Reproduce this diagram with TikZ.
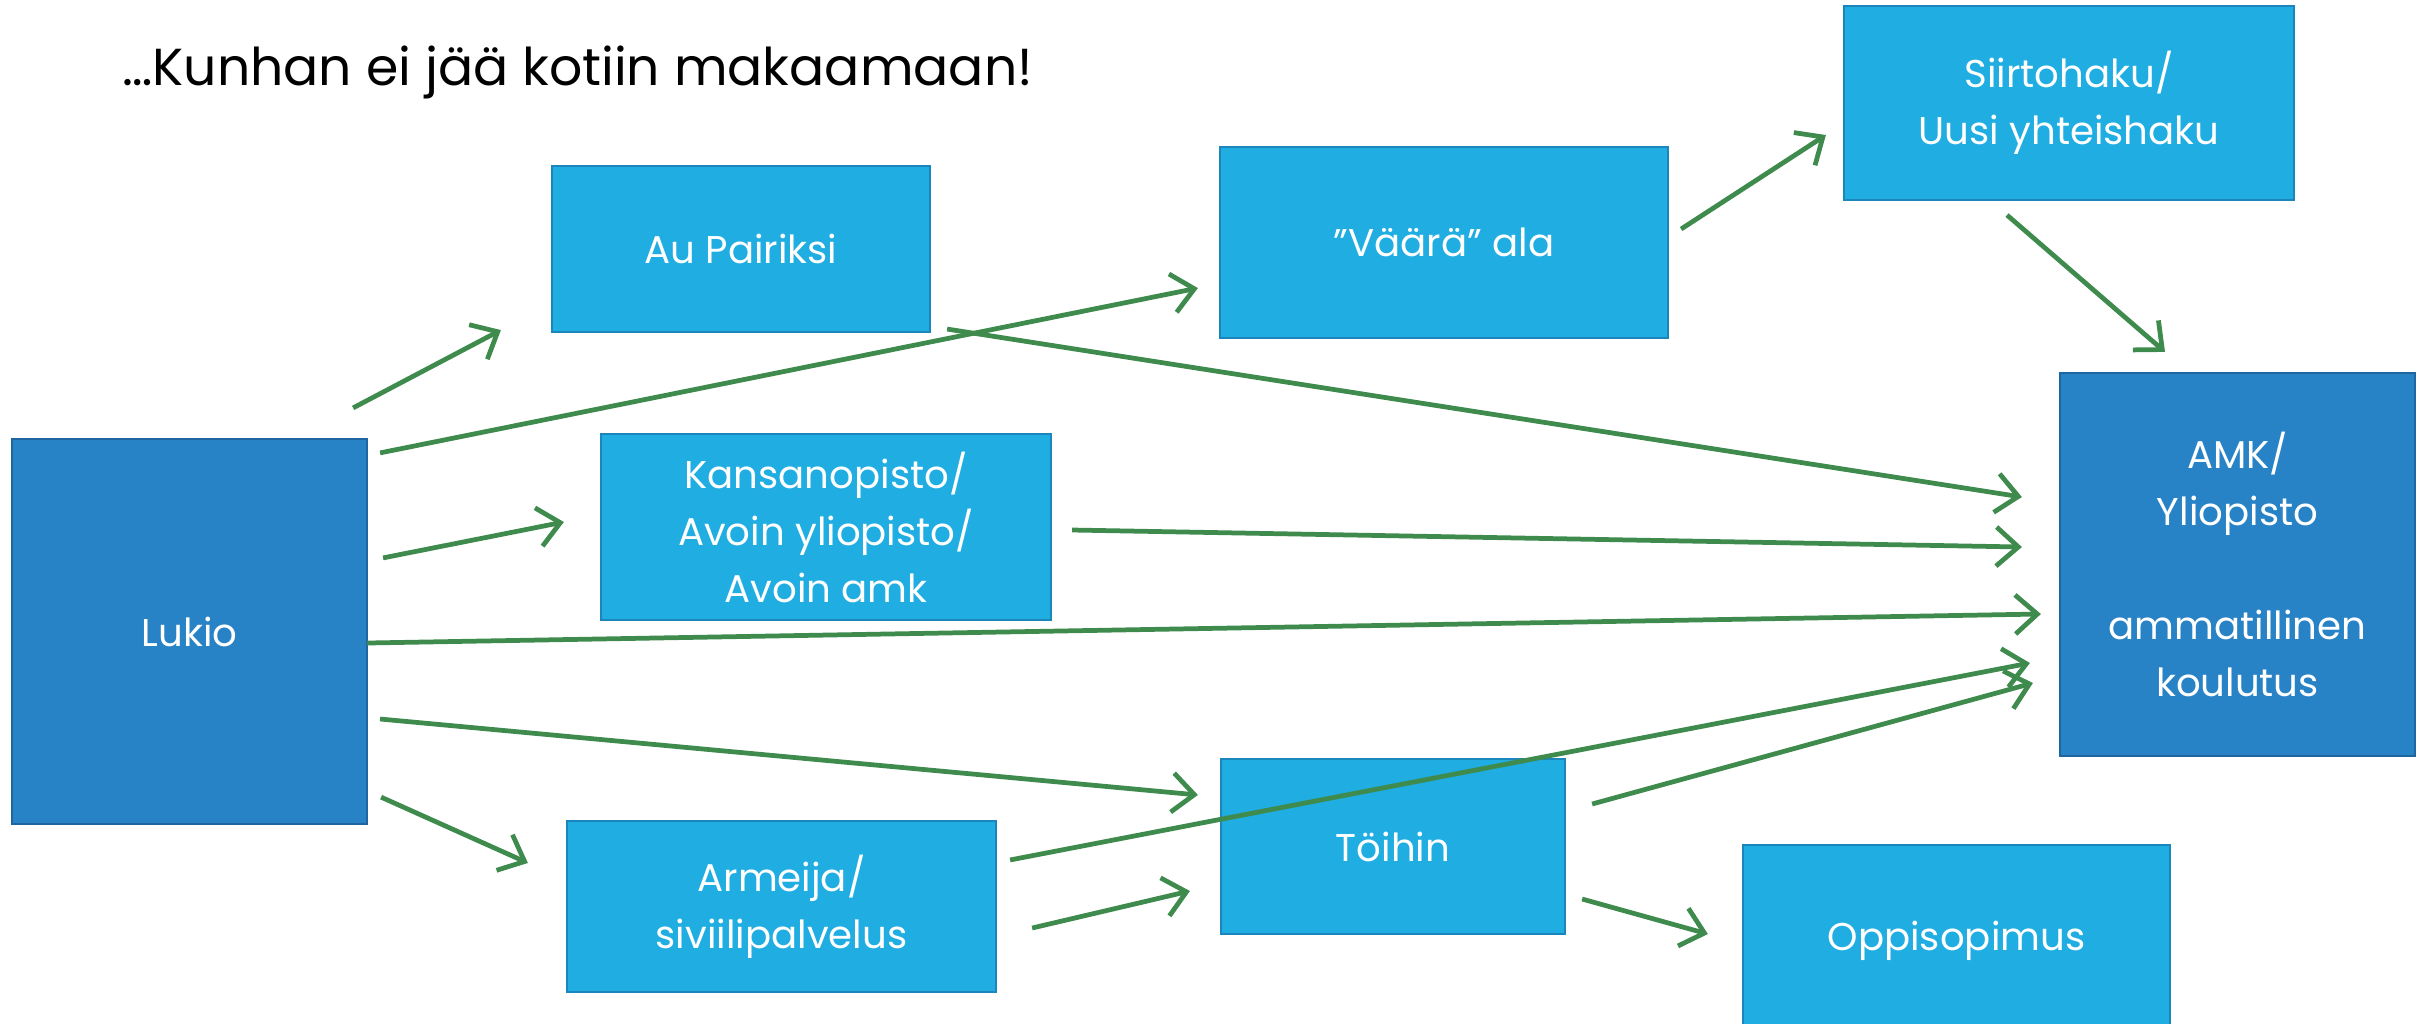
\documentclass[tikz,border=0pt]{standalone}
\usepackage{fontspec}
\setmainfont{Poppins}
\usetikzlibrary{arrows.meta}
\definecolor{boxlight}{HTML}{1FADE2}
\definecolor{edgelight}{HTML}{1A86BB}
\definecolor{boxdark}{HTML}{2882C6}
\definecolor{edgedark}{HTML}{1F66A0}
\definecolor{arrowgreen}{HTML}{3E8B4D}
\def\BoxFont{\fontsize{11}{16.2}\selectfont}
\tikzset{
	lightbox/.style={draw=edgelight,fill=boxlight,line width=0.7pt,text=white,align=center,font=\BoxFont,inner sep=0pt,outer sep=0pt},
	darkbox/.style={lightbox,draw=edgedark,fill=boxdark},
	goarrow/.style={draw=arrowgreen,line width=1.35pt,-{Straight Barb[length=2.2mm,width=3.9mm]}},
}

\begin{document}
\begin{tikzpicture}[x=0.01cm,y=-0.01cm]
	\useasboundingbox (0,0) rectangle (2430,1023);
	\begin{scope}
		\clip (0,0) rectangle (2430,1023);
		% 
		\node[anchor=west,font=\fontsize{14.8}{17}\selectfont] (title) at (110,72) {…Kunhan ei jää kotiin makaamaan!};
		% 
		\node[darkbox,minimum width=3.55cm,minimum height=3.85cm] (lukio) at (189.5,631.5) {Lukio};
		\node[darkbox,minimum width=3.55cm,minimum height=3.83cm] (amk) at (2237.5,564.5) {AMK/\\Yliopisto\\[16.2pt]ammatillinen\\koulutus};
		% 
		\node[lightbox,minimum width=3.78cm,minimum height=1.66cm] (aupair) at (741,249) {Au Pairiksi};
		\node[lightbox,minimum width=4.48cm,minimum height=1.91cm] (vaara) at (1444,242.5) {”Väärä” ala};
		\node[lightbox,minimum width=4.50cm,minimum height=1.94cm] (siirto) at (2069,103) {Siirtohaku/\\Uusi yhteishaku};
		\node[lightbox,minimum width=4.50cm,minimum height=1.86cm] (kansan) at (826,527) {Kansanopisto/\\Avoin yliopisto/\\Avoin amk};
		\node[lightbox,minimum width=3.44cm,minimum height=1.75cm] (toihin) at (1393,846.5) {Töihin};
		\node[lightbox,minimum width=4.29cm,minimum height=1.71cm] (armeija) at (781.5,906.5) {Armeija/\\siviilipalvelus};
		\node[lightbox,minimum width=4.27cm,minimum height=1.92cm] (oppi) at (1956.5,941) {Oppisopimus};
		% 
		\draw[goarrow] ([shift={(-14,-31)}]lukio.north east) -- ([shift={(-51,-2)}]aupair.south west);
		\draw[goarrow] ([shift={(13,14)}]lukio.north east) -- ([shift={(-22,-50)}]vaara.south west);
		\draw[goarrow] ([shift={(16,119)}]lukio.north east) -- ([shift={(-37,-5)}]kansan.west);
		\draw[goarrow] ([shift={(0,11.5)}]lukio.east) -- ([shift={(-19,49.5)}]amk.west);
		\draw[goarrow] ([shift={(13,87.5)}]lukio.east) -- ([shift={(-23,36)}]toihin.north west);
		\draw[goarrow] ([shift={(14,-27)}]lukio.south east) -- ([shift={(-39,42)}]armeija.north west);
		% 
		\draw[goarrow] ([shift={(17,-3)}]aupair.south east) -- ([shift={(-38,-67.5)}]amk.west);
		\draw[goarrow] ([shift={(13,-13.5)}]vaara.east) -- ([shift={(-18,32)}]siirto.west);
		\draw[goarrow] ([shift={(-62,15)}]siirto.south) -- ([shift={(-72.5,-21)}]amk.north);
		\draw[goarrow] ([shift={(21,3)}]kansan.east) -- ([shift={(-38,-17.5)}]amk.west);
		\draw[goarrow] ([shift={(14,39)}]armeija.north east) -- ([shift={(-30,98.5)}]amk.west);
		\draw[goarrow] ([shift={(36,21.5)}]armeija.east) -- ([shift={(-31,44.5)}]toihin.west);
		\draw[goarrow] ([shift={(27,-42.5)}]toihin.east) -- ([shift={(-27,118.5)}]amk.west);
		\draw[goarrow] ([shift={(17,52.5)}]toihin.east) -- ([shift={(-35,-7)}]oppi.west);
	\end{scope}
\end{tikzpicture}
\end{document}
